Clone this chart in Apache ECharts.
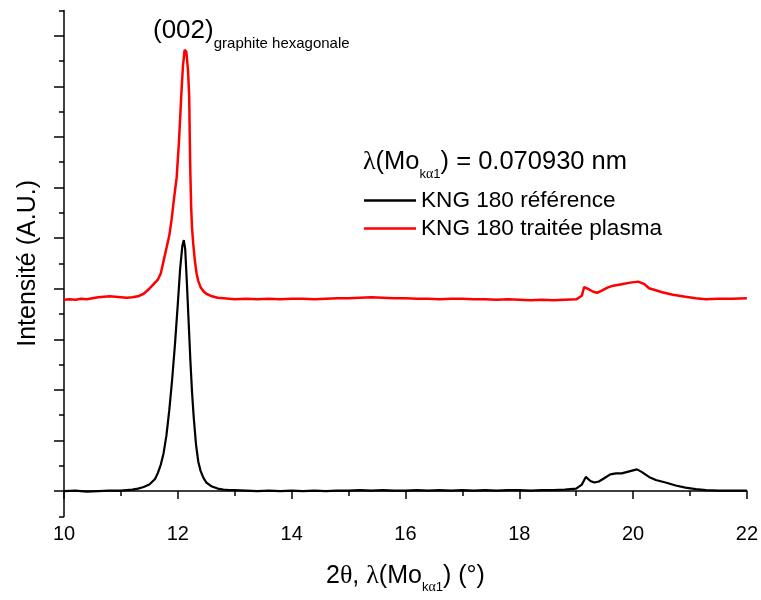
<!DOCTYPE html>
<html>
<head>
<meta charset="utf-8">
<script src="https://cdn.jsdelivr.net/npm/echarts@6/dist/echarts.min.js"></script>
<style>
html,body{margin:0;padding:0;background:#fff;}
#chart{width:761px;height:600px;}
</style>
</head>
<body>
<div id="chart"></div>
<script>
// ---- data ----
const xTicks = [10, 12, 14, 16, 18, 20, 22];
const seriesNames = ['KNG 180 référence', 'KNG 180 traitée plasma'];
const blackData = [
[10.0,0.00],[10.2,0.01],[10.4,-0.01],[10.6,0.00],[10.8,0.01],[11.0,0.01],[11.2,0.03],[11.3,0.05],
[11.4,0.08],[11.5,0.13],[11.6,0.24],[11.65,0.36],[11.7,0.52],[11.75,0.75],[11.8,1.10],[11.85,1.60],
[11.9,2.20],[11.95,2.90],[12.0,3.70],[12.04,4.38],[12.08,4.85],[12.105,4.96],[12.13,4.78],[12.16,4.10],
[12.19,3.35],[12.22,2.60],[12.25,1.95],[12.28,1.45],[12.32,0.92],[12.36,0.58],[12.4,0.40],[12.45,0.26],
[12.5,0.17],[12.6,0.09],[12.7,0.05],[12.8,0.03],[12.9,0.02],[13.0,0.02],[13.2,0.01],[13.4,0.00],
[13.6,0.01],[13.8,0.00],[14.0,0.01],[14.2,0.00],[14.4,0.01],[14.6,0.00],[14.8,0.01],[15.0,0.01],
[15.2,0.02],[15.4,0.01],[15.6,0.02],[15.8,0.01],[16.0,0.01],[16.2,0.02],[16.4,0.01],[16.6,0.02],
[16.8,0.01],[17.0,0.02],[17.2,0.01],[17.4,0.02],[17.6,0.01],[17.8,0.02],[18.0,0.02],[18.2,0.01],
[18.4,0.02],[18.6,0.02],[18.8,0.03],[19.0,0.05],[19.1,0.13],[19.17,0.28],[19.25,0.20],[19.32,0.17],
[19.4,0.19],[19.5,0.26],[19.6,0.33],[19.7,0.35],[19.8,0.35],[19.9,0.38],[20.0,0.41],[20.07,0.43],
[20.15,0.38],[20.28,0.28],[20.4,0.22],[20.57,0.17],[20.75,0.11],[20.92,0.07],[21.1,0.04],[21.28,0.02],
[21.5,0.01],[21.75,0.01],[22.0,0.01]
];
const redData = [
[10.0,3.78],[10.1,3.79],[10.2,3.78],[10.3,3.80],[10.4,3.79],[10.5,3.81],[10.6,3.83],[10.7,3.84],
[10.8,3.85],[10.9,3.84],[11.0,3.83],[11.1,3.82],[11.2,3.83],[11.3,3.85],[11.4,3.90],[11.5,4.00],
[11.6,4.12],[11.65,4.18],[11.7,4.30],[11.75,4.55],[11.8,4.80],[11.85,5.05],[11.89,5.36],[11.93,5.75],
[11.98,6.20],[12.02,6.90],[12.06,7.80],[12.09,8.40],[12.12,8.72],[12.135,8.75],[12.15,8.68],[12.18,8.30],
[12.2,7.80],[12.21,7.00],[12.22,6.30],[12.235,5.60],[12.25,5.20],[12.27,4.90],[12.3,4.55],[12.33,4.30],
[12.36,4.15],[12.4,4.03],[12.45,3.95],[12.5,3.90],[12.6,3.85],[12.7,3.82],[12.8,3.81],[12.9,3.80],
[13.0,3.79],[13.2,3.80],[13.4,3.79],[13.6,3.80],[13.8,3.79],[14.0,3.80],[14.2,3.80],[14.4,3.79],
[14.6,3.80],[14.8,3.81],[15.0,3.81],[15.2,3.82],[15.4,3.83],[15.6,3.82],[15.8,3.81],[16.0,3.81],
[16.2,3.80],[16.4,3.80],[16.6,3.79],[16.8,3.80],[17.0,3.80],[17.2,3.79],[17.4,3.79],[17.6,3.78],
[17.8,3.79],[18.0,3.78],[18.2,3.77],[18.4,3.78],[18.6,3.77],[18.8,3.78],[19.0,3.79],[19.1,3.86],
[19.14,4.03],[19.2,4.00],[19.3,3.94],[19.37,3.92],[19.45,3.96],[19.55,4.02],[19.65,4.06],[19.8,4.09],
[19.95,4.12],[20.09,4.14],[20.2,4.09],[20.28,4.01],[20.4,3.97],[20.51,3.93],[20.7,3.88],[20.92,3.84],
[21.1,3.81],[21.28,3.79],[21.5,3.80],[21.75,3.80],[22.0,3.81]
];
const yMajorTicks = [0,1,2,3,4,5,6,7,8,9];
const yMinorTicks = [-0.5,0.5,1.5,2.5,3.5,4.5,5.5,6.5,7.5,8.5,9.5];

const FONT = '"Liberation Sans", Arial, sans-serif';
const SERIF = '"Liberation Serif", "Times New Roman", serif';

const chart = echarts.init(document.getElementById('chart'), null, {renderer: 'canvas'});

const option = {
  backgroundColor: '#fff',
  animation: false,
  textStyle: {fontFamily: FONT, color: '#000'},
  grid: {left: 64, right: 13, top: 10.4, bottom: 83.6, containLabel: false},
  legend: {
    orient: 'vertical',
    left: 364, top: 189, padding: 0,
    itemWidth: 52, itemHeight: 2.5, itemGap: 5,
    icon: 'rect',
    textStyle: {fontFamily: FONT, fontSize: 22.6, color: '#000'},
    data: seriesNames
  },
  xAxis: {
    type: 'value', min: 10, max: 22, interval: 2,
    axisLine: {lineStyle: {color: '#000', width: 1.5}},
    axisTick: {show: true, inside: false, length: 8, lineStyle: {color: '#000', width: 1.5}},
    minorTick: {show: true, splitNumber: 2, length: 5, lineStyle: {color: '#000', width: 1.5}},
    splitLine: {show: false},
    axisLabel: {fontSize: 20, color: '#000', margin: 8, fontFamily: FONT},
    name: '{a|2}{g|θ}{a|, }{g|λ}{a|(Mo}{s|k}{gs|α}{s|1}{a|) (°)}',
    nameLocation: 'middle', nameGap: 42,
    nameTextStyle: {
      rich: {
        a: {fontSize: 25, fontFamily: FONT, color: '#000'},
        g: {fontSize: 26, fontFamily: SERIF, color: '#000'},
        s: {fontSize: 13, fontFamily: FONT, color: '#000', padding: [22,0,0,0]},
        gs: {fontSize: 14, fontFamily: SERIF, color: '#000', padding: [22,0,0,0]}
      }
    }
  },
  yAxis: [{
    type: 'value', min: -0.5, max: 9.5,
    axisLine: {show: true, lineStyle: {color: '#000', width: 1.5}},
    axisTick: {show: true, inside: false, length: 10, customValues: yMajorTicks, lineStyle: {color: '#000', width: 1.5}},
    axisLabel: {show: false},
    splitLine: {show: false},
    name: 'Intensité (A.U.)', nameLocation: 'middle', nameGap: 23, nameRotate: 90,
    nameTextStyle: {fontSize: 25, fontFamily: FONT, color: '#000'}
  }, {
    type: 'value', min: -0.5, max: 9.5, position: 'left',
    axisLine: {show: false},
    axisTick: {show: true, inside: false, length: 5, customValues: yMinorTicks, lineStyle: {color: '#000', width: 1.5}},
    axisLabel: {show: false},
    splitLine: {show: false}
  }],
  series: [{
    name: seriesNames[0], type: 'line', data: blackData, showSymbol: false,
    lineStyle: {color: '#000', width: 2.2}, itemStyle: {color: '#000'}, z: 3
  }, {
    name: seriesNames[1], type: 'line', data: redData, showSymbol: false,
    lineStyle: {color: '#ff0000', width: 2.5}, itemStyle: {color: '#ff0000'}, z: 2
  }],
  graphic: [{
    type: 'text', x: 153, y: 31,
    style: {
      text: '{m|(002)}{s|graphite hexagonale}',
      align: 'left', verticalAlign: 'middle',
      rich: {
        m: {fontSize: 26, fontFamily: FONT, fill: '#000'},
        s: {fontSize: 15, fontFamily: FONT, fill: '#000', padding: [26,0,0,0]}
      }
    }
  }, {
    type: 'text', x: 363, y: 162,
    style: {
      text: '{g|λ}{m|(Mo}{s|k}{gs|α}{s|1}{m|) = 0.070930 nm}',
      align: 'left', verticalAlign: 'middle',
      rich: {
        m: {fontSize: 25.5, fontFamily: FONT, fill: '#000'},
        g: {fontSize: 26, fontFamily: SERIF, fill: '#000'},
        s: {fontSize: 13, fontFamily: FONT, fill: '#000', padding: [24,0,0,0]},
        gs: {fontSize: 14, fontFamily: SERIF, fill: '#000', padding: [24,0,0,0]}
      }
    }
  }]
};
chart.setOption(option);
</script>
</body>
</html>
